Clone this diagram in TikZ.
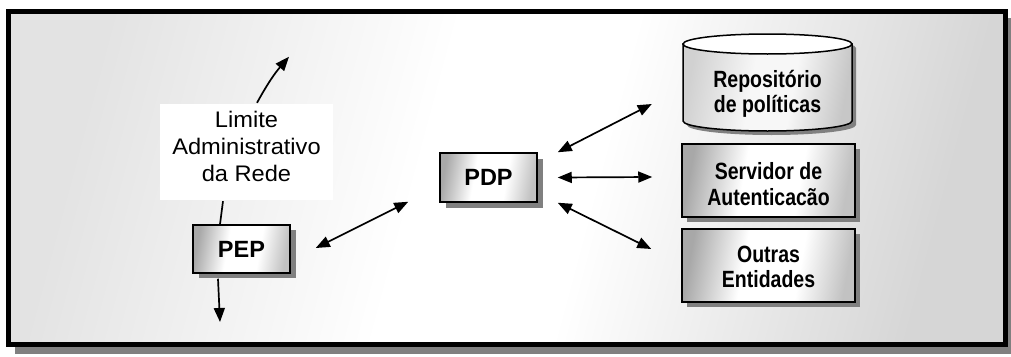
\documentclass[tikz,border=0pt]{standalone}
\usepackage{fontspec}
\setmainfont{Liberation Sans}
\newfontfamily\lblfamily[FakeStretch=1.05]{Liberation Sans}
\newfontfamily\narrowfamily[FakeStretch=0.83]{Liberation Sans}
\newcommand{\mylblfont}{\lblfamily\fontsize{22.5}{27}\selectfont}
\newcommand{\mypepfont}{\bfseries\fontsize{23.5}{28}\selectfont}
\newcommand{\myboxfont}{\narrowfamily\bfseries\fontsize{23.5}{25.5}\selectfont}
\usetikzlibrary{arrows.meta,calc}
\pgfdeclarehorizontalshading{bgshade}{100bp}{color(0bp)=(black!11); color(25bp)=(black!11); color(45bp)=(white); color(55bp)=(white); color(75bp)=(black!16); color(100bp)=(black!16)}
\pgfdeclarehorizontalshading{boxshade}{100bp}{color(0bp)=(black!34); color(25bp)=(black!34); color(42bp)=(white); color(60bp)=(white); color(75bp)=(black!24); color(100bp)=(black!24)}
\pgfdeclarehorizontalshading{cylshade}{100bp}{color(0bp)=(black!18); color(25bp)=(black!18); color(45bp)=(black!3); color(58bp)=(black!3); color(75bp)=(black!22); color(100bp)=(black!22)}
\begin{document}
\begin{tikzpicture}[x=1pt,y=-1pt,
  conn/.style={line width=1.7pt, {Triangle[length=14pt,width=11pt]}-{Triangle[length=14pt,width=11pt]}},
  oneway/.style={line width=1.7pt, -{Triangle[length=14pt,width=11pt]}},
  plainline/.style={line width=1.7pt},
  gbox/.style={draw=black, line width=1.5pt, shading=boxshade, shading angle=-10, inner sep=0pt},
  boxtext/.style={font=\myboxfont, align=center, inner sep=0pt},
  shadowfill/.style={fill=black!50, draw=none}
]
\useasboundingbox (0,0) rectangle (1011,356);
% frame
\fill[shadowfill] (15,18) rectangle (1011,354);
\shade[shading=bgshade, shading angle=-15] (8.5,11) rectangle (1005.5,344.5);
\draw[line width=5pt] (8.5,11) rectangle (1005.5,344.5);

% label
\node[fill=white, minimum width=173pt, minimum height=96pt, inner sep=0pt] (lblbox) at (246.5,152) {};
\node[font=\mylblfont, align=center, inner sep=0pt] (lbl) at (246.5,146) {Limite\\Administrativo\\da Rede};

% shadows of boxes
\fill[shadowfill] (199,230) rectangle (296,278);
\fill[shadowfill] (446,159) rectangle (543,208);
\fill[shadowfill] (687,149) rectangle (860,222);
\fill[shadowfill] (687,234) rectangle (860,307);

% PEP and PDP
\node[gbox, minimum width=97pt, minimum height=48pt, font=\mypepfont] (pep) at (241.5,249) {PEP};
\node[gbox, minimum width=97pt, minimum height=49pt, font=\mypepfont] (pdp) at (488.5,177.5) {PDP};

% cylinder
\begin{scope}[shift={(4,4)}]
\fill[shadowfill] (683,44) -- (683,121) arc[start angle=180,end angle=360,x radius=84.5pt,y radius=10pt] -- (852,44) arc[start angle=0,end angle=180,x radius=84.5pt,y radius=10pt] -- cycle;
\end{scope}
\path[draw=black, line width=1.5pt, shading=cylshade, shading angle=-10] (683,44) -- (683,121) arc[start angle=180,end angle=360,x radius=84.5pt,y radius=10pt] -- (852,44) -- cycle;
\draw[line width=1.5pt, fill=white] (767.5,44) ellipse [x radius=84.5pt, y radius=10pt];
\node[minimum width=169pt, minimum height=97pt, inner sep=0pt] (repo) at (767.5,82.5) {};
\node[boxtext] (repot) at (767.5,94) {Repositório\\de políticas};

% right boxes
\node[gbox, minimum width=173pt, minimum height=73pt] (serv) at (768.5,180.5) {};
\node[boxtext] (servt) at (768.5,184) {Servidor de\\Autenticacão};
\node[gbox, minimum width=173pt, minimum height=73pt] (outr) at (768.5,265.5) {};
\node[boxtext] (outrt) at (768.5,267) {Outras\\Entidades};

% connectors
\coordinate (upend) at ($(lblbox.north)+(42.5,-47)$);
\coordinate (downend) at (220,322);
\draw[oneway] ($(lblbox.north)+(10.5,-1)$) to[bend left=6] (upend);
\draw[plainline] ($(lblbox.south)+(-23.5,1)$) -- ($(pep.north)+(-21.5,0)$);
\draw[oneway] ($(pep.south)+(-23.5,5)$) -- (downend);
\draw[conn] ($(pep.east)+(25,-1)$) -- ($(pdp.south west)+(-31,-1)$);
\draw[conn] ($(pdp.north east)+(20,0)$) -- ($(repo.west)+(-31,21.5)$);
\draw[conn] ($(pdp.east)+(20,0)$) -- ($(serv.west)+(-29,-3.5)$);
\draw[conn] ($(pdp.south east)+(20,0)$) -- ($(outr.west)+(-30,-16.5)$);
\end{tikzpicture}
\end{document}
